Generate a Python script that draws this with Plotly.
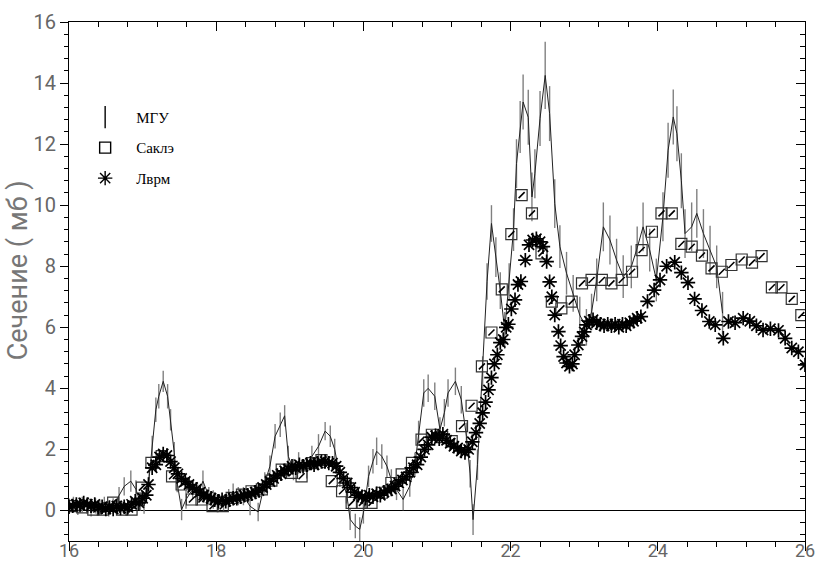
import plotly.graph_objects as go

# --- МГУ: cross-section with error bars (line through points) ---
mgu_x = [16.00, 16.06, 16.12, 16.18, 16.24, 16.30, 16.36, 16.42, 16.48, 16.54,
         16.60, 16.68, 16.75, 16.84, 16.91, 16.97, 17.02, 17.09, 17.13, 17.18,
         17.22, 17.28, 17.34, 17.38, 17.43, 17.47, 17.53, 17.59, 17.68, 17.75,
         17.82, 17.90, 17.96, 18.03, 18.10, 18.17, 18.23, 18.30, 18.37, 18.46,
         18.57, 18.66, 18.73, 18.80, 18.87, 18.93, 18.98, 19.05, 19.12, 19.23,
         19.30, 19.39, 19.48, 19.55, 19.61, 19.68, 19.77, 19.82, 19.89, 19.95,
         20.00, 20.07, 20.13, 20.18, 20.25, 20.32, 20.38, 20.45, 20.54, 20.63,
         20.70, 20.75, 20.82, 20.88, 20.97, 21.04, 21.10, 21.15, 21.25, 21.33,
         21.40, 21.45, 21.49, 21.55, 21.62, 21.68, 21.74, 21.80, 21.86, 21.92,
         21.98, 22.04, 22.08, 22.13, 22.17, 22.24, 22.29, 22.33, 22.40, 22.47,
         22.53, 22.60, 22.67, 22.76, 22.85, 22.94, 23.03, 23.10, 23.17, 23.26,
         23.35, 23.44, 23.53, 23.64, 23.72, 23.80, 23.89, 23.98, 24.07, 24.14,
         24.21, 24.26, 24.32, 24.37, 24.46, 24.53, 24.62, 24.71, 24.80, 24.88]
mgu_y = [0.15, 0.20, 0.10, 0.20, 0.15, 0.05, 0.15, 0.10, 0.20, 0.05,
         0.15, 0.47, 0.79, 0.96, 0.69, 0.25, 0.14, 1.12, 2.10, 3.30,
         3.74, 4.23, 3.74, 2.97, 1.89, 0.90, 0.03, 0.36, 0.69, 0.55,
         0.96, 0.47, 0.36, 0.20, 0.25, 0.40, 0.58, 0.47, 0.47, 0.14,
         -0.05, 0.90, 1.45, 2.43, 2.81, 3.10, 1.77, 1.34, 1.56, 1.40,
         1.77, 2.10, 2.60, 2.43, 2.00, 1.12, 0.58, -0.29, -0.51, -0.62,
         -0.08, 1.12, 1.61, 1.94, 1.77, 1.45, 1.00, 0.69, 0.36, 0.80,
         1.50, 2.54, 3.85, 4.00, 3.74, 2.65, 3.20, 3.85, 4.23, 3.63,
         2.43, 1.20, -0.30, 1.50, 4.50, 7.50, 9.40, 8.30, 7.20, 5.90,
         7.50, 9.20, 11.36, 12.56, 13.38, 12.88, 10.27, 11.03, 12.84, 14.25,
         13.00, 10.05, 8.64, 7.77, 7.11, 6.40, 6.00, 6.50, 7.55, 9.29,
         8.86, 8.20, 7.66, 7.98, 8.60, 9.29, 8.53, 7.55, 9.62, 11.80,
         12.89, 12.34, 10.80, 9.07, 9.29, 9.73, 9.07, 8.53, 7.98, 6.46]
mgu_err = [0.25, 0.25, 0.25, 0.25, 0.25, 0.25, 0.25, 0.25, 0.25, 0.25,
           0.25, 0.30, 0.30, 0.35, 0.30, 0.25, 0.25, 0.30, 0.35, 0.40,
           0.40, 0.35, 0.40, 0.35, 0.35, 0.30, 0.35, 0.30, 0.30, 0.30,
           0.35, 0.30, 0.30, 0.25, 0.25, 0.30, 0.30, 0.30, 0.30, 0.30,
           0.30, 0.35, 0.35, 0.40, 0.40, 0.35, 0.35, 0.35, 0.35, 0.35,
           0.35, 0.40, 0.30, 0.35, 0.35, 0.35, 0.35, 0.35, 0.40, 0.40,
           0.35, 0.35, 0.40, 0.45, 0.40, 0.35, 0.35, 0.35, 0.35, 0.35,
           0.40, 0.40, 0.45, 0.45, 0.45, 0.40, 0.45, 0.45, 0.45, 0.45,
           0.45, 0.45, 0.50, 0.50, 0.55, 0.60, 0.60, 0.65, 0.60, 0.60,
           0.60, 0.70, 0.80, 0.85, 0.90, 0.90, 0.80, 0.80, 0.90, 1.10,
           0.90, 0.80, 0.70, 0.70, 0.60, 0.60, 0.60, 0.60, 0.70, 0.80,
           0.80, 0.70, 0.70, 0.70, 0.70, 0.80, 0.70, 0.70, 0.80, 0.90,
           0.90, 0.90, 0.90, 0.80, 0.80, 0.80, 0.80, 0.80, 0.70, 0.70]

# --- Саклэ: open squares ---
sac_x = [16.04, 16.18, 16.33, 16.46, 16.60, 16.72, 16.85, 16.99, 17.12, 17.26,
         17.40, 17.53, 17.67, 17.80, 17.95, 18.09, 18.21, 18.35, 18.48, 18.62,
         18.75, 18.89, 19.03, 19.16, 19.30, 19.43, 19.57, 19.71, 19.84, 19.98,
         20.11, 20.25, 20.38, 20.52, 20.66, 20.79, 20.93, 21.07, 21.20, 21.34,
         21.47, 21.61, 21.74, 21.88, 22.01, 22.15, 22.29, 22.42, 22.56, 22.69,
         22.83, 22.97, 23.10, 23.24, 23.37, 23.51, 23.65, 23.78, 23.92, 24.05,
         24.19, 24.32, 24.46, 24.60, 24.73, 24.87, 25.00, 25.14, 25.28, 25.41,
         25.55, 25.68, 25.82, 25.95]
sac_y = [0.14, 0.10, 0.03, 0.03, 0.26, 0.03, 0.03, 0.75, 1.56, 1.78,
         1.12, 0.85, 0.36, 0.36, 0.14, 0.14, 0.41, 0.52, 0.63, 0.69,
         0.98, 1.34, 1.23, 1.12, 1.55, 1.65, 0.96, 0.63, 0.25, 0.25,
         0.25, 0.58, 0.90, 1.18, 1.56, 2.32, 2.48, 2.40, 2.27, 2.76,
         3.43, 4.72, 5.83, 7.24, 9.05, 10.33, 9.73, 8.42, 6.84, 6.62,
         6.84, 7.44, 7.55, 7.55, 7.44, 7.55, 7.82, 8.53, 9.13, 9.73,
         9.73, 8.73, 8.64, 8.35, 7.93, 7.82, 8.04, 8.22, 8.12, 8.33,
         7.31, 7.31, 6.93, 6.40]

# --- Лврм: asterisks ---
lv_x = [16.00, 16.05, 16.10, 16.15, 16.20, 16.25, 16.30, 16.35, 16.40, 16.45,
        16.50, 16.55, 16.60, 16.65, 16.70, 16.75, 16.80, 16.85, 16.90, 16.95,
        17.00, 17.05, 17.08, 17.13, 17.18, 17.23, 17.28, 17.33, 17.38, 17.43,
        17.48, 17.53, 17.58, 17.63, 17.68, 17.73, 17.78, 17.83, 17.88, 17.93,
        17.98, 18.03, 18.08, 18.13, 18.18, 18.23, 18.28, 18.33, 18.38, 18.43,
        18.48, 18.53, 18.58, 18.63, 18.68, 18.73, 18.78, 18.83, 18.88, 18.93,
        18.98, 19.03, 19.08, 19.13, 19.18, 19.23, 19.28, 19.33, 19.38, 19.43,
        19.48, 19.53, 19.58, 19.63, 19.68, 19.73, 19.78, 19.83, 19.88, 19.93,
        19.98, 20.03, 20.08, 20.13, 20.18, 20.23, 20.28, 20.33, 20.38, 20.43,
        20.48, 20.53, 20.58, 20.63, 20.68, 20.73, 20.78, 20.83, 20.88, 20.93,
        20.98, 21.03, 21.08, 21.13, 21.18, 21.23, 21.28, 21.33, 21.38, 21.43,
        21.48, 21.53, 21.58, 21.62, 21.66, 21.70, 21.74, 21.78, 21.82, 21.86,
        21.90, 21.94, 21.97, 22.01, 22.06, 22.10, 22.14, 22.20, 22.25, 22.30,
        22.35, 22.40, 22.44, 22.49, 22.53, 22.56, 22.60, 22.65, 22.68, 22.72,
        22.76, 22.80, 22.84, 22.87, 22.92, 22.97, 23.00, 23.03, 23.07, 23.12,
        23.17, 23.22, 23.27, 23.32, 23.37, 23.42, 23.47, 23.52, 23.57, 23.62,
        23.67, 23.72, 23.77, 23.86, 23.95, 24.03, 24.12, 24.23, 24.32, 24.41,
        24.50, 24.60, 24.70, 24.78, 24.89, 24.96, 25.05, 25.16, 25.25, 25.34,
        25.43, 25.53, 25.64, 25.73, 25.82, 25.91, 26.00]
lv_y = [0.12, 0.15, 0.20, 0.18, 0.25, 0.20, 0.15, 0.20, 0.10, 0.12,
        0.05, 0.10, 0.05, 0.15, 0.08, 0.12, 0.10, 0.20, 0.30, 0.25,
        0.40, 0.50, 0.85, 1.40, 1.50, 1.75, 1.85, 1.80, 1.60, 1.40,
        1.20, 1.05, 0.95, 0.85, 0.75, 0.70, 0.60, 0.50, 0.45, 0.40,
        0.35, 0.30, 0.35, 0.30, 0.35, 0.40, 0.40, 0.45, 0.50, 0.50,
        0.55, 0.60, 0.65, 0.75, 0.85, 0.95, 1.05, 1.15, 1.20, 1.30,
        1.35, 1.45, 1.40, 1.50, 1.45, 1.50, 1.55, 1.50, 1.55, 1.60,
        1.60, 1.55, 1.55, 1.45, 1.25, 1.05, 0.90, 0.75, 0.60, 0.50,
        0.45, 0.40, 0.50, 0.45, 0.55, 0.50, 0.60, 0.65, 0.70, 0.80,
        0.90, 1.00, 1.10, 1.25, 1.40, 1.50, 1.75, 2.00, 2.15, 2.40,
        2.45, 2.35, 2.50, 2.30, 2.20, 2.10, 2.05, 1.95, 1.90, 2.00,
        2.25, 2.55, 2.85, 3.20, 3.55, 3.95, 4.35, 4.80, 5.10, 5.50,
        5.60, 6.00, 6.10, 6.60, 6.90, 7.40, 7.50, 8.20, 8.70, 8.86,
        8.90, 8.80, 8.64, 8.15, 7.49, 7.00, 6.40, 5.86, 5.40, 5.04,
        4.83, 4.72, 4.80, 5.10, 5.42, 5.70, 5.85, 6.08, 6.20, 6.25,
        6.15, 6.10, 6.05, 6.10, 6.05, 6.10, 6.00, 6.10, 6.05, 6.15,
        6.20, 6.30, 6.35, 6.85, 7.22, 7.55, 8.00, 8.13, 7.79, 7.46,
        6.93, 6.55, 6.19, 6.08, 5.64, 6.19, 6.15, 6.30, 6.20, 6.05,
        5.91, 5.95, 5.90, 5.64, 5.32, 5.20, 4.77]

series_names = ["МГУ", "Саклэ", "Лврм"]
axis_title = "Сечение ( мб )"

tick_font = dict(family="Roboto, sans-serif", size=20, color="#666")
xtick_font = dict(family="Roboto, sans-serif", size=18, color="#666")
tick_style = dict(tickcolor="#000", tickwidth=1.2, showgrid=False, zeroline=False,
                  automargin=False, showticklabels=False, showline=False)

fig = go.Figure()

# МГУ line with vertical error bars
fig.add_trace(go.Scatter(
    x=mgu_x, y=mgu_y, mode="lines",
    line=dict(color="#222", width=1),
    error_y=dict(type="data", array=mgu_err, color="#808080", thickness=1.4, width=0),
    showlegend=False, hoverinfo="skip"))

# Саклэ squares with the small slash inside
fig.add_trace(go.Scatter(
    x=sac_x, y=sac_y, mode="markers",
    marker=dict(symbol="square-open", size=11, color="#333", line=dict(width=1.2)),
    showlegend=False, hoverinfo="skip"))
fig.add_trace(go.Scatter(
    x=sac_x, y=sac_y, mode="markers",
    marker=dict(symbol="line-ne", size=6, color="#000", line=dict(width=1.6, color="#000")),
    showlegend=False, hoverinfo="skip"))

# Лврм asterisks
fig.add_trace(go.Scatter(
    x=lv_x, y=lv_y, mode="markers",
    marker=dict(symbol="asterisk-open", size=12, color="#000", line=dict(width=1.7, color="#000")),
    showlegend=False, hoverinfo="skip"))

# legend keys
legend_symbols = ["line-ns-open", "square-open", "asterisk-open"]
legend_sizes = [20, 11, 12]
for name, sym, sz in zip(series_names, legend_symbols, legend_sizes):
    fig.add_trace(go.Scatter(
        x=[None], y=[None], mode="markers", name=name, legendgroup=name,
        marker=dict(symbol=sym, size=sz, color="#000", line=dict(width=1.4, color="#000"))))

# carriers for the extra tick axes (top / right / bottom ticks)
fig.add_trace(go.Scatter(x=[None], y=[None], xaxis="x2", yaxis="y2",
                         showlegend=False, hoverinfo="skip"))
fig.add_trace(go.Scatter(x=[None], y=[None], xaxis="x3", yaxis="y",
                         showlegend=False, hoverinfo="skip"))

fig.update_layout(
    width=815, height=563,
    margin=dict(l=69, r=10, t=22, b=22, autoexpand=False),
    paper_bgcolor="white", plot_bgcolor="white",
    showlegend=True,
    legend=dict(x=0.007, y=0.848, xanchor="left", yanchor="top",
                font=dict(family="Liberation Serif, serif", size=15, color="#000"),
                bgcolor="rgba(0,0,0,0)", tracegroupgap=8, itemwidth=52),
    # bottom axis: labels only, ticks come from xaxis3
    xaxis=dict(range=[16, 26], tick0=16, dtick=2, ticks="",
               showline=True, linecolor="#000", linewidth=1.2, mirror=True,
               showgrid=False, zeroline=False, automargin=False,
               tickfont=xtick_font, ticklabeloverflow="allow", ticklabelstandoff=-7),
    yaxis=dict(range=[-1, 16], tick0=0, dtick=2, ticks="outside", ticklen=8,
               tickwidth=1.2, tickcolor="#000", showline=True, linecolor="#000",
               linewidth=1.2, mirror=True, showgrid=False, automargin=False,
               zeroline=True, zerolinecolor="#000", zerolinewidth=1,
               tickfont=tick_font,
               minor=dict(tick0=0, dtick=0.4, ticks="outside", ticklen=4,
                          tickcolor="#000", tickwidth=1)),
    xaxis2=dict(overlaying="x", side="top", range=[16, 26], tick0=16, dtick=2,
                ticks="inside", ticklen=9,
                minor=dict(tick0=16, dtick=0.4, ticks="inside", ticklen=5,
                           tickcolor="#000", tickwidth=1), **tick_style),
    xaxis3=dict(overlaying="x", side="bottom", anchor="y", range=[16, 26], tick0=16,
                dtick=2, ticks="outside", ticklen=9,
                minor=dict(tick0=16, dtick=0.4, ticks="outside", ticklen=5,
                           tickcolor="#000", tickwidth=1), **tick_style),
    yaxis2=dict(overlaying="y", side="right", range=[-1, 16], tick0=0, dtick=2,
                ticks="inside", ticklen=9,
                minor=dict(tick0=0, dtick=0.4, ticks="inside", ticklen=5,
                           tickcolor="#000", tickwidth=1), **tick_style),
    annotations=[dict(text=axis_title, textangle=-90, xref="paper", yref="paper",
                      x=-0.069, y=0.522, xanchor="center", yanchor="middle",
                      showarrow=False,
                      font=dict(family="Roboto, sans-serif", size=27, color="#777"))],
)

fig.write_html("out.html")
